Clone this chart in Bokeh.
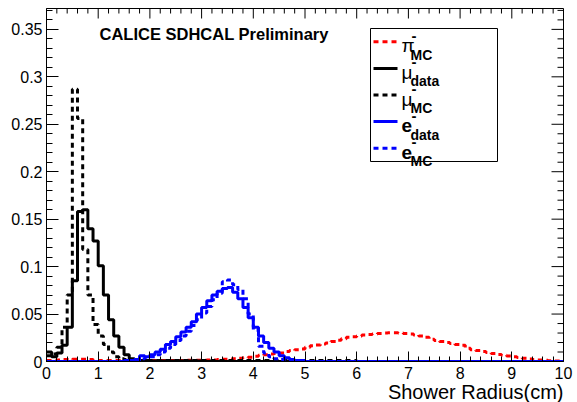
import numpy as np
from bokeh.plotting import figure
from bokeh.models import FixedTicker, Range1d, CustomJSTickFormatter, Label, Title
from bokeh.embed import file_html
from bokeh.resources import INLINE

# ---------------- data ----------------
bin_edges = [round(0.1 * i, 1) for i in range(101)]   # 100 bins of 0.1 cm

pi_mc = [
    0.001, 0.001, 0.0015, 0.002, 0.002, 0.0025, 0.0025, 0.0025, 0.002, 0.0015,
    0.001, 0.001, 0.001, 0.001, 0.001, 0.001, 0.001, 0.001, 0.001, 0.001,
    0.001, 0.001, 0.001, 0.001, 0.001, 0.001, 0.0011, 0.0012, 0.0012, 0.0013,
    0.0014, 0.0015, 0.0017, 0.002, 0.0023, 0.0026, 0.003, 0.0035, 0.004, 0.0045,
    0.0055, 0.0065, 0.0072, 0.008, 0.0085, 0.009, 0.0105, 0.0115, 0.0125, 0.0133,
    0.015, 0.0165, 0.0175, 0.0185, 0.0195, 0.021, 0.0225, 0.024, 0.0255, 0.0262,
    0.027, 0.0278, 0.0285, 0.029, 0.0295, 0.030, 0.0302, 0.0302, 0.030, 0.0295,
    0.029, 0.028, 0.027, 0.0255, 0.0235, 0.022, 0.021, 0.020, 0.019, 0.018,
    0.017, 0.014, 0.0125, 0.0115, 0.0105, 0.0095, 0.0085, 0.0075, 0.0065, 0.0058,
    0.005, 0.0042, 0.0034, 0.0027, 0.002, 0.0016, 0.0012, 0.0009, 0.0006, 0.0004,
]

mu_data = [
    0.010, 0.005, 0.009, 0.017, 0.036, 0.085, 0.158, 0.160, 0.140, 0.127,
    0.101, 0.070, 0.044, 0.027, 0.015, 0.007, 0.003, 0.002, 0.001, 0.001,
    0.0005, 0.0005, 0.0005, 0.0005, 0.0005, 0.0005, 0.0005, 0.0005, 0.0005, 0.0005,
] + [0.0] * 70

mu_mc = [
    0.006, 0.008, 0.015, 0.036, 0.070, 0.287, 0.256, 0.118, 0.070, 0.039,
    0.027, 0.018, 0.010, 0.005, 0.003, 0.002, 0.0015, 0.001, 0.001, 0.001,
] + [0.001] * 40 + [0.0] * 40

e_data = [0.0] * 15 + [
    0.001, 0.001, 0.002, 0.006, 0.005,
    0.007, 0.010, 0.013, 0.018, 0.021, 0.026, 0.031, 0.036, 0.042, 0.050,
    0.057, 0.064, 0.070, 0.074, 0.077, 0.078, 0.073, 0.066, 0.057, 0.046,
    0.036, 0.027, 0.020, 0.014, 0.010, 0.006, 0.004, 0.002, 0.001, 0.001,
] + [0.0] * 50

e_mc = [0.0] * 15 + [
    0.001, 0.001, 0.001, 0.003, 0.004,
    0.005, 0.007, 0.010, 0.014, 0.018, 0.022, 0.027, 0.032, 0.038, 0.044,
    0.051, 0.058, 0.065, 0.072, 0.084, 0.086, 0.081, 0.076, 0.066, 0.050,
    0.033, 0.016, 0.009, 0.005, 0.003, 0.002, 0.001, 0.001, 0.0, 0.0,
] + [0.0] * 50

x_ticks = list(range(0, 11))
x_minor = [round(0.2 * i, 1) for i in range(51)]
y_ticks = [round(0.05 * i, 2) for i in range(8)]
y_minor = [round(0.01 * i, 2) for i in range(38)]

# ---------------- layout ----------------
W, H = 577, 402
FL, FR, FT, FB = 46, 563, 8, 361
X0, X1 = 0.0, 10.0
Y0, Y1 = 0.0, 0.372
FONT = "Liberation Sans"
SX = (X1 - X0) / (FR - FL)   # data units per pixel
SY = (Y1 - Y0) / (FB - FT)


def dx(px):
    return X0 + (px - FL) * SX


def dy(py):
    return Y0 + (FB - py) * SY


p = figure(width=W, height=H, x_range=Range1d(X0, X1), y_range=Range1d(Y0, Y1),
           output_backend="svg", toolbar_location=None,
           min_border_left=FL, min_border_right=W - FR,
           min_border_top=FT, min_border_bottom=H - FB)
p.background_fill_color = "white"
p.border_fill_color = "white"
p.outline_line_color = "black"
p.outline_line_width = 1
p.xgrid.visible = False
p.ygrid.visible = False

fmt = CustomJSTickFormatter(code="return String(+tick.toFixed(3));")


def style_axis(ax, ticks, minor, tin, tmin):
    ax.ticker = FixedTicker(ticks=ticks, minor_ticks=minor)
    ax.formatter = fmt
    ax.axis_line_color = "black"
    ax.axis_line_width = 1
    ax.major_tick_line_color = "black"
    ax.minor_tick_line_color = "black"
    ax.major_tick_in = tin
    ax.major_tick_out = 0
    ax.minor_tick_in = tmin
    ax.minor_tick_out = 0
    ax.major_label_text_font = FONT
    ax.major_label_text_font_size = "16px"
    ax.major_label_text_color = "black"


xa = p.xaxis[0]
ya = p.yaxis[0]
style_axis(xa, x_ticks, x_minor, 10, 5)
style_axis(ya, y_ticks, y_minor, 12, 6)
xa.major_label_standoff = 5
ya.major_label_standoff = 4

# x-axis title, right-aligned under the frame
p.add_layout(Title(text="Shower Radius(cm)", align="right", text_font=FONT,
                   text_font_size="20px", text_font_style="normal",
                   text_color="black", standoff=-6), "below")

# ticks on the top and right frame edges (mirrors of the axes)
def mirror_ticks(vals, length_px, horizontal_edge):
    if horizontal_edge:
        p.segment(x0=vals, y0=[Y1] * len(vals), x1=vals,
                  y1=[Y1 - length_px * SY] * len(vals), line_color="black", line_width=1)
    else:
        p.segment(x0=[X1] * len(vals), y0=vals, x1=[X1 - length_px * SX] * len(vals),
                  y1=vals, line_color="black", line_width=1)


mirror_ticks(x_ticks, 10, True)
mirror_ticks([v for v in x_minor if v not in x_ticks], 5, True)
mirror_ticks(y_ticks, 12, False)
mirror_ticks([v for v in y_minor if v not in y_ticks], 6, False)

# ---------------- histograms ----------------
series = [
    (pi_mc, "#ff0000", "5 4"),
    (mu_data, "black", "solid"),
    (mu_mc, "black", "5 4"),
    (e_data, "#0000ff", "solid"),
    (e_mc, "#0000ff", "5 4"),
]
for vals, col, dash in series:
    p.step(x=bin_edges, y=list(vals) + [vals[-1]], mode="after",
           line_color=col, line_width=3, line_dash=dash)

# ---------------- legend (drawn by hand for sub/superscripts) ----------------
p.quad(left=[dx(370)], right=[dx(497)], top=[dy(28)], bottom=[dy(161)],
       fill_color="white", line_color="black", line_width=1)

legend_rows = [
    ("\u03c0", "MC", "#ff0000", "5 4", False),
    ("\u03bc", "data", "black", "solid", False),
    ("\u03bc", "MC", "black", "5 4", False),
    ("e", "data", "#0000ff", "solid", True),
    ("e", "MC", "#0000ff", "5 4", True),
]
row_h = (161 - 28) / 5.0
for k, (sym, sub, col, dash, bold) in enumerate(legend_rows):
    cy = 28 + row_h * (k + 0.5)
    p.line(x=[dx(373), dx(397)], y=[dy(cy), dy(cy)], line_color=col,
           line_width=3, line_dash=dash)
    p.add_layout(Label(x=dx(401), y=dy(cy + 4), text=sym, text_font=FONT,
                       text_font_size="19px", text_font_style="bold" if bold else "normal",
                       text_color="black", text_baseline="alphabetic", text_align="left"))
    p.add_layout(Label(x=dx(411), y=dy(cy - 6), text="-", text_font=FONT,
                       text_font_size="15px", text_font_style="bold",
                       text_color="black", text_baseline="alphabetic", text_align="left"))
    p.add_layout(Label(x=dx(410), y=dy(cy + 13), text=sub, text_font=FONT,
                       text_font_size="14px", text_font_style="bold",
                       text_color="black", text_baseline="alphabetic", text_align="left"))

# ---------------- title ----------------
p.add_layout(Label(x=dx(99), y=dy(33.5), text="CALICE SDHCAL Preliminary",
                   text_font=FONT, text_font_size="16.5px", text_font_style="bold",
                   text_color="black", text_baseline="alphabetic", text_align="left"))

open("out.html", "w").write(file_html(p, INLINE))
